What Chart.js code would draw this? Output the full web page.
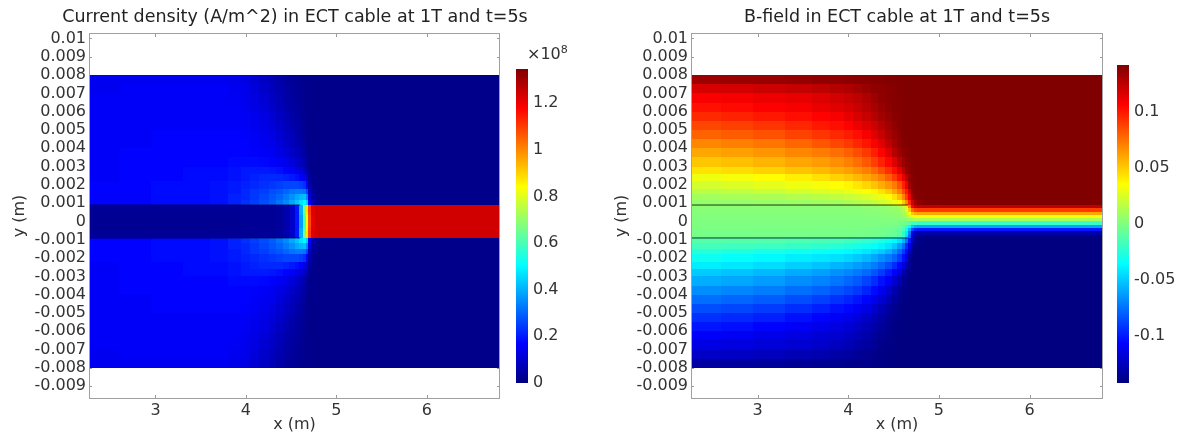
<!DOCTYPE html>
<html>
<head>
<meta charset="utf-8">
<script src="https://cdn.jsdelivr.net/npm/chart.js@4.4.1/dist/chart.umd.min.js"></script>
<style>
  body { margin:0; background:#fff; width:1182px; height:434px; overflow:hidden; position:relative; font-family:'DejaVu Sans', sans-serif; }
  canvas { position:absolute; top:0; }
  #exp { position:absolute; left:527px; top:42px; font-size:16px; color:#333; line-height:16px; }
  #exp sup { font-size:11px; vertical-align:6px; }
</style>
</head>
<body>
<canvas id="jChart" width="590" height="434" style="left:0px"></canvas>
<canvas id="jBar" width="90" height="434" style="left:505px"></canvas>
<canvas id="bChart" width="518" height="434" style="left:590px"></canvas>
<canvas id="bBar" width="74" height="434" style="left:1108px"></canvas>
<div id="exp">×10<sup>8</sup></div>
<script>
// axis ranges (data units)
const xRange = [2.265, 6.81];
const yRange = [-0.0097, 0.0103];
const jRange = [0, 1.346];      // x10^8 A/m^2
const bRange = [-0.142, 0.142]; // T

// tick labels
const xTicks = [3, 4, 5, 6];
const yTicks = [0.01, 0.009, 0.008, 0.007, 0.006, 0.005, 0.004, 0.003, 0.002, 0.001, 0,
                -0.001, -0.002, -0.003, -0.004, -0.005, -0.006, -0.007, -0.008, -0.009];
const jBarTicks = [0, 0.2, 0.4, 0.6, 0.8, 1, 1.2];
const bBarTicks = [-0.1, -0.05, 0, 0.05, 0.1];

// sample cell edges
const xEdges = [2.265, 2.6, 2.95, 3.3, 3.6, 3.8, 3.95, 4.05, 4.15, 4.25, 4.33, 4.41, 4.48, 4.54, 4.59, 4.63, 4.66, 4.69, 4.72, 4.76, 4.82, 5.0, 6.81];
const yEdges = [0.008, 0.0075, 0.007, 0.0065, 0.006, 0.0055, 0.005, 0.0045, 0.004, 0.0035, 0.003, 0.0026, 0.0022, 0.0018, 0.0015, 0.0012, 0.0009,
                0.00072, 0.00054, 0.00036, 0.00018, 0, -0.00018, -0.00036, -0.00054, -0.00072, -0.0009,
                -0.0012, -0.0015, -0.0018, -0.0022, -0.0026, -0.003, -0.0035, -0.004, -0.0045, -0.005, -0.0055, -0.006, -0.0065, -0.007, -0.0075, -0.008];

// cable edges and where the drawn edge line stops
const stripEdges = [0.0009, -0.0009];
const stripLineEnd = [4.6, 4.66];

// current density, rows top -> bottom, columns left -> right (x10^8)
const jValues = [
  [.15,.15,.15,.15,.15,.14,.13,.11,.09,.07,.055,.04,.03,.025,.02,.02,.02,.015,.015,.015,.015,.015],
  [.15,.16,.16,.16,.16,.15,.14,.12,.10,.08,.065,.05,.035,.03,.025,.02,.02,.015,.015,.015,.015,.015],
  [.16,.16,.16,.16,.16,.155,.145,.13,.11,.09,.07,.055,.04,.03,.025,.02,.02,.015,.015,.015,.015,.015],
  [.16,.16,.16,.16,.16,.16,.15,.135,.12,.10,.08,.06,.045,.035,.03,.02,.02,.015,.015,.015,.015,.015],
  [.16,.16,.16,.16,.16,.16,.155,.145,.13,.11,.09,.07,.05,.04,.03,.025,.02,.015,.015,.015,.015,.015],
  [.16,.16,.16,.16,.16,.16,.155,.15,.135,.12,.10,.08,.06,.045,.035,.025,.02,.015,.015,.015,.015,.015],
  [.16,.16,.17,.17,.17,.17,.165,.155,.145,.13,.11,.09,.07,.055,.04,.03,.02,.015,.015,.015,.015,.015],
  [.16,.16,.17,.17,.17,.17,.17,.16,.15,.14,.12,.10,.08,.065,.05,.035,.025,.015,.015,.015,.015,.015],
  [.16,.17,.17,.17,.17,.17,.17,.165,.16,.15,.135,.115,.095,.08,.06,.045,.03,.02,.015,.015,.015,.015],
  [.16,.17,.17,.17,.17,.18,.18,.18,.175,.165,.155,.14,.12,.10,.08,.06,.04,.02,.015,.015,.015,.015],
  [.16,.17,.17,.18,.18,.19,.20,.20,.20,.195,.185,.17,.155,.135,.115,.09,.06,.03,.015,.015,.015,.015],
  [.16,.17,.17,.18,.18,.19,.20,.21,.22,.22,.22,.21,.20,.185,.165,.14,.10,.04,.02,.015,.015,.015],
  [.17,.17,.18,.18,.19,.20,.21,.22,.23,.24,.25,.26,.26,.26,.25,.23,.17,.06,.025,.015,.015,.015],
  [.17,.17,.18,.18,.19,.20,.22,.24,.25,.27,.28,.30,.32,.33,.33,.32,.26,.09,.03,.02,.015,.015],
  [.17,.17,.18,.18,.19,.21,.22,.24,.26,.28,.30,.33,.36,.39,.41,.42,.35,.12,.04,.02,.015,.015],
  [.17,.17,.18,.18,.19,.21,.23,.25,.27,.29,.32,.35,.39,.43,.47,.50,.44,.16,.06,.03,.02,.015],
  // cable
  [.03,.03,.03,.03,.03,.03,.03,.03,.03,.03,.035,.06,.10,.20,.40,.65,.88,1.10,1.22,1.24,1.24,1.24],
  [.03,.03,.03,.03,.03,.03,.03,.03,.03,.03,.035,.06,.10,.20,.40,.65,.88,1.10,1.22,1.24,1.24,1.24],
  [.025,.025,.025,.025,.025,.025,.03,.03,.03,.03,.035,.06,.10,.20,.40,.63,.86,1.09,1.22,1.24,1.24,1.24],
  [.025,.025,.025,.025,.025,.025,.03,.03,.03,.03,.035,.06,.10,.20,.38,.60,.84,1.08,1.21,1.24,1.24,1.24],
  [.025,.025,.025,.025,.025,.025,.03,.03,.03,.03,.035,.06,.10,.20,.38,.60,.84,1.08,1.21,1.24,1.24,1.24],
  [.025,.025,.025,.025,.025,.025,.03,.03,.03,.03,.035,.06,.10,.20,.38,.60,.84,1.08,1.21,1.24,1.24,1.24],
  [.025,.025,.025,.025,.025,.025,.03,.03,.03,.03,.035,.06,.10,.20,.38,.60,.84,1.08,1.21,1.24,1.24,1.24],
  [.025,.025,.025,.025,.025,.025,.03,.03,.03,.03,.035,.06,.10,.20,.40,.63,.86,1.09,1.22,1.24,1.24,1.24],
  [.03,.03,.03,.03,.03,.03,.03,.03,.03,.03,.035,.06,.10,.20,.40,.65,.88,1.10,1.22,1.24,1.24,1.24],
  [.03,.03,.03,.03,.03,.03,.03,.03,.03,.03,.035,.06,.10,.20,.40,.65,.88,1.10,1.22,1.24,1.24,1.24],
  // below cable
  [.17,.17,.18,.18,.19,.21,.23,.25,.27,.29,.32,.35,.39,.43,.47,.50,.44,.16,.06,.03,.02,.015],
  [.17,.17,.18,.18,.19,.21,.22,.24,.26,.28,.30,.33,.36,.39,.41,.42,.35,.12,.04,.02,.015,.015],
  [.17,.17,.18,.18,.19,.20,.22,.24,.25,.27,.28,.30,.32,.33,.33,.32,.26,.09,.03,.02,.015,.015],
  [.17,.17,.18,.18,.19,.20,.21,.22,.23,.24,.25,.26,.26,.26,.25,.23,.17,.06,.025,.015,.015,.015],
  [.16,.17,.17,.18,.18,.19,.20,.21,.22,.22,.22,.21,.20,.185,.165,.14,.10,.04,.02,.015,.015,.015],
  [.16,.17,.17,.18,.18,.19,.20,.20,.20,.195,.185,.17,.155,.135,.115,.09,.06,.03,.015,.015,.015,.015],
  [.16,.17,.17,.17,.17,.18,.18,.18,.175,.165,.155,.14,.12,.10,.08,.06,.04,.02,.015,.015,.015,.015],
  [.16,.17,.17,.17,.17,.17,.17,.165,.16,.15,.135,.115,.095,.08,.06,.045,.03,.02,.015,.015,.015,.015],
  [.16,.16,.17,.17,.17,.17,.17,.16,.15,.14,.12,.10,.08,.065,.05,.035,.025,.015,.015,.015,.015,.015],
  [.16,.16,.17,.17,.17,.17,.165,.155,.145,.13,.11,.09,.07,.055,.04,.03,.02,.015,.015,.015,.015,.015],
  [.16,.16,.16,.16,.16,.16,.155,.15,.135,.12,.10,.08,.06,.045,.035,.025,.02,.015,.015,.015,.015,.015],
  [.16,.16,.16,.16,.16,.16,.155,.145,.13,.11,.09,.07,.05,.04,.03,.025,.02,.015,.015,.015,.015,.015],
  [.16,.16,.16,.16,.16,.16,.15,.135,.12,.10,.08,.06,.045,.035,.03,.02,.02,.015,.015,.015,.015,.015],
  [.16,.16,.16,.16,.16,.155,.145,.13,.11,.09,.07,.055,.04,.03,.025,.02,.02,.015,.015,.015,.015,.015],
  [.15,.16,.16,.16,.16,.15,.14,.12,.10,.08,.065,.05,.035,.03,.025,.02,.02,.015,.015,.015,.015,.015],
  [.15,.15,.15,.15,.15,.14,.13,.11,.09,.07,.055,.04,.03,.025,.02,.02,.02,.015,.015,.015,.015,.015]
];

// B-field, same grid (T)
const bValues = [
  [.134,.135,.135,.136,.137,.137,.138,.139,.139,.140,.140,.141,.141,.142,.142,.142,.142,.142,.142,.142,.142,.142],
  [.118,.119,.121,.123,.125,.127,.129,.132,.135,.137,.138,.139,.140,.141,.141,.142,.142,.142,.142,.142,.142,.142],
  [.108,.109,.111,.113,.116,.119,.122,.125,.129,.134,.137,.139,.140,.141,.141,.142,.142,.142,.142,.142,.142,.142],
  [.102,.104,.107,.109,.112,.115,.118,.122,.126,.131,.135,.138,.140,.141,.141,.142,.142,.142,.142,.142,.142,.142],
  [.095,.097,.100,.103,.106,.109,.113,.117,.122,.127,.132,.136,.139,.140,.141,.142,.142,.142,.142,.142,.142,.142],
  [.087,.089,.092,.096,.100,.103,.106,.111,.116,.121,.127,.133,.137,.140,.141,.142,.142,.142,.142,.142,.142,.142],
  [.079,.081,.084,.088,.092,.096,.099,.103,.109,.115,.122,.130,.135,.139,.141,.142,.142,.142,.142,.142,.142,.142],
  [.069,.071,.074,.078,.083,.087,.091,.096,.101,.107,.115,.124,.132,.137,.140,.141,.142,.142,.142,.142,.142,.142],
  [.060,.062,.065,.069,.072,.076,.080,.085,.091,.098,.106,.116,.126,.134,.138,.140,.141,.142,.142,.142,.142,.142],
  [.051,.053,.056,.060,.063,.067,.071,.076,.082,.089,.097,.105,.115,.126,.134,.138,.140,.141,.142,.142,.142,.142],
  [.043,.045,.048,.052,.055,.059,.062,.066,.071,.077,.085,.094,.103,.114,.126,.135,.139,.141,.142,.142,.142,.142],
  [.031,.033,.036,.040,.044,.048,.051,.055,.060,.065,.071,.080,.090,.101,.112,.126,.136,.140,.141,.142,.142,.142],
  [.023,.025,.028,.031,.033,.035,.038,.042,.047,.052,.058,.065,.072,.083,.097,.110,.132,.139,.141,.142,.142,.142],
  [.016,.018,.020,.023,.025,.027,.029,.031,.034,.038,.043,.050,.060,.071,.085,.100,.120,.137,.140,.141,.142,.142],
  [.010,.011,.012,.014,.016,.018,.020,.022,.025,.028,.031,.036,.044,.055,.070,.090,.110,.133,.139,.141,.142,.142],
  [.006,.006,.007,.008,.009,.010,.012,.014,.016,.019,.022,.026,.031,.037,.050,.068,.095,.118,.133,.138,.141,.142],
  // cable
  [.003,.003,.003,.003,.003,.003,.003,.003,.004,.004,.005,.006,.008,.012,.02,.04,.07,.107,.121,.125,.125,.125],
  [.002,.002,.002,.002,.002,.002,.002,.002,.003,.003,.004,.005,.006,.009,.015,.028,.05,.077,.087,.09,.09,.09],
  [.0015,.0015,.0015,.0015,.0015,.0015,.0015,.0015,.002,.002,.003,.003,.004,.006,.01,.019,.034,.051,.058,.06,.06,.06],
  [.001,.001,.001,.001,.001,.001,.001,.001,.001,.001,.002,.002,.003,.004,.006,.011,.02,.03,.034,.035,.035,.035],
  [.0005,.0005,.0005,.0005,.0005,.0005,.0005,.0005,.0005,.0005,.001,.001,.001,.001,.002,.004,.007,.01,.012,.012,.012,.012],
  [-.0005,-.0005,-.0005,-.0005,-.0005,-.0005,-.0005,-.0005,-.0005,-.0005,-.001,-.001,-.001,-.002,-.003,-.006,-.011,-.017,-.019,-.02,-.02,-.02],
  [-.001,-.001,-.001,-.001,-.001,-.001,-.001,-.001,-.001,-.001,-.002,-.002,-.003,-.005,-.01,-.019,-.033,-.051,-.058,-.06,-.06,-.06],
  [-.0015,-.0015,-.0015,-.0015,-.0015,-.0015,-.0015,-.0015,-.002,-.002,-.003,-.004,-.005,-.008,-.016,-.03,-.055,-.085,-.097,-.1,-.1,-.1],
  [-.002,-.002,-.002,-.002,-.002,-.002,-.002,-.002,-.003,-.003,-.004,-.005,-.007,-.011,-.02,-.04,-.072,-.11,-.126,-.13,-.13,-.13],
  [-.003,-.003,-.003,-.003,-.003,-.003,-.003,-.003,-.004,-.004,-.005,-.006,-.008,-.012,-.022,-.045,-.078,-.119,-.136,-.14,-.14,-.14],
  // below cable
  [-.012,-.012,-.013,-.014,-.015,-.016,-.018,-.02,-.022,-.025,-.028,-.032,-.037,-.043,-.056,-.074,-.1,-.122,-.135,-.139,-.141,-.142],
  [-.017,-.018,-.019,-.021,-.023,-.025,-.027,-.029,-.032,-.035,-.038,-.043,-.051,-.062,-.076,-.095,-.114,-.135,-.14,-.141,-.142,-.142],
  [-.025,-.027,-.029,-.031,-.033,-.035,-.037,-.039,-.042,-.046,-.05,-.057,-.066,-.077,-.09,-.104,-.123,-.138,-.141,-.142,-.142,-.142],
  [-.032,-.034,-.037,-.04,-.042,-.044,-.047,-.05,-.055,-.06,-.066,-.072,-.079,-.089,-.102,-.114,-.134,-.14,-.142,-.142,-.142,-.142],
  [-.04,-.042,-.045,-.049,-.052,-.056,-.059,-.063,-.067,-.072,-.078,-.086,-.095,-.105,-.116,-.128,-.137,-.141,-.142,-.142,-.142,-.142],
  [-.05,-.052,-.055,-.059,-.062,-.066,-.069,-.073,-.077,-.083,-.09,-.099,-.107,-.117,-.128,-.136,-.14,-.142,-.142,-.142,-.142,-.142],
  [-.058,-.06,-.063,-.067,-.07,-.074,-.078,-.082,-.088,-.094,-.102,-.109,-.119,-.129,-.136,-.139,-.141,-.142,-.142,-.142,-.142,-.142],
  [-.067,-.069,-.072,-.076,-.079,-.083,-.087,-.091,-.097,-.104,-.111,-.12,-.129,-.136,-.139,-.141,-.142,-.142,-.142,-.142,-.142,-.142],
  [-.076,-.078,-.081,-.085,-.089,-.093,-.097,-.101,-.106,-.112,-.119,-.127,-.134,-.138,-.141,-.142,-.142,-.142,-.142,-.142,-.142,-.142],
  [-.085,-.087,-.09,-.094,-.098,-.102,-.105,-.109,-.114,-.12,-.126,-.133,-.137,-.14,-.142,-.142,-.142,-.142,-.142,-.142,-.142,-.142],
  [-.093,-.095,-.098,-.102,-.106,-.109,-.112,-.116,-.121,-.126,-.131,-.136,-.139,-.141,-.142,-.142,-.142,-.142,-.142,-.142,-.142,-.142],
  [-.101,-.103,-.106,-.109,-.112,-.115,-.118,-.122,-.126,-.13,-.134,-.138,-.14,-.141,-.142,-.142,-.142,-.142,-.142,-.142,-.142,-.142],
  [-.108,-.11,-.113,-.115,-.118,-.12,-.123,-.126,-.13,-.134,-.137,-.139,-.141,-.142,-.142,-.142,-.142,-.142,-.142,-.142,-.142,-.142],
  [-.114,-.115,-.117,-.119,-.121,-.124,-.127,-.13,-.133,-.136,-.139,-.14,-.141,-.142,-.142,-.142,-.142,-.142,-.142,-.142,-.142,-.142],
  [-.122,-.123,-.125,-.127,-.129,-.131,-.133,-.135,-.137,-.139,-.14,-.141,-.141,-.142,-.142,-.142,-.142,-.142,-.142,-.142,-.142,-.142],
  [-.132,-.133,-.134,-.135,-.136,-.137,-.138,-.139,-.139,-.14,-.14,-.141,-.141,-.142,-.142,-.142,-.142,-.142,-.142,-.142,-.142,-.142]
];

Chart.defaults.font.family = "'DejaVu Sans', sans-serif";
Chart.defaults.color = '#333';

function clamp01(v){ return Math.max(0, Math.min(1, v)); }

// jet colour map
function jet(t){
  t = clamp01(t);
  const r = clamp01(1.5 - Math.abs(4 * t - 3));
  const g = clamp01(1.5 - Math.abs(4 * t - 2));
  const b = clamp01(1.5 - Math.abs(4 * t - 1));
  return 'rgb(' + Math.round(r * 255) + ',' + Math.round(g * 255) + ',' + Math.round(b * 255) + ')';
}

function fmt(v){ return String(parseFloat(Number(v).toFixed(4))); }
function fixTicks(list){ return function(scale){ scale.ticks = list.map(v => ({value: v})); }; }

// fills the grid cells, placed with the chart's own scales
function heatmap(values, range){
  return {
    id: 'heatmap',
    beforeDatasetsDraw(chart){
      const {ctx, chartArea: a, scales: {x, y}} = chart;
      ctx.save();
      ctx.beginPath();
      ctx.rect(a.left, a.top, a.width, a.height);
      ctx.clip();
      for (let r = 0; r < values.length; r++){
        const y0 = Math.round(y.getPixelForValue(yEdges[r]));
        const y1 = Math.round(y.getPixelForValue(yEdges[r + 1]));
        for (let c = 0; c < values[r].length; c++){
          const x0 = Math.round(x.getPixelForValue(xEdges[c]));
          const x1 = Math.round(x.getPixelForValue(xEdges[c + 1]));
          ctx.fillStyle = jet((values[r][c] - range[0]) / (range[1] - range[0]));
          ctx.fillRect(x0, y0, x1 - x0, y1 - y0);
        }
      }
      ctx.restore();
    }
  };
}

// inward tick marks (under the field) and grey box
const frame = {
  id: 'frame',
  beforeDatasetsDraw(chart){
    const {ctx, chartArea: a, scales: {x, y}} = chart;
    ctx.save();
    ctx.strokeStyle = '#999';
    ctx.lineWidth = 1;
    ctx.beginPath();
    x.ticks.forEach(t => {
      const px = Math.round(x.getPixelForValue(t.value)) + 0.5;
      ctx.moveTo(px, a.top); ctx.lineTo(px, a.top + 4);
      ctx.moveTo(px, a.bottom); ctx.lineTo(px, a.bottom - 4);
    });
    y.ticks.forEach(t => {
      const py = Math.round(y.getPixelForValue(t.value)) + 0.5;
      ctx.moveTo(a.left, py); ctx.lineTo(a.left + 3, py);
      ctx.moveTo(a.right, py); ctx.lineTo(a.right - 3, py);
    });
    ctx.stroke();
    ctx.restore();
  },
  afterDraw(chart){
    const {ctx, chartArea: a} = chart;
    ctx.save();
    ctx.strokeStyle = '#a0a0a0';
    ctx.lineWidth = 1;
    ctx.strokeRect(a.left + 0.5, a.top + 0.5, a.width - 1, a.height - 1);
    ctx.restore();
  }
};

// rightSpace: room kept right of the plot; wideTitle: title centred over the whole canvas
function fieldChart(id, title, values, range, yAxisWidth, yTitlePad, lineEnd, lineColor, rightSpace, wideTitle){
  const scales = {
    x: {
      type: 'linear', min: xRange[0], max: xRange[1],
      afterBuildTicks: fixTicks(xTicks),
      afterFit: s => { s.height = 35; },
      ticks: {callback: fmt, font: {size: 16}, padding: 2, autoSkip: false, maxRotation: 0},
      grid: {display: false, drawTicks: false},
      border: {display: false},
      title: {display: true, text: 'x (m)', font: {size: 16}, padding: {top: 0, bottom: 0}}
    },
    y: {
      type: 'linear', min: yRange[0], max: yRange[1],
      afterBuildTicks: fixTicks(yTicks),
      afterFit: s => { s.width = yAxisWidth; },
      ticks: {callback: fmt, font: {size: 16}, padding: 3, autoSkip: false},
      grid: {display: false, drawTicks: false},
      border: {display: false},
      title: {display: true, text: 'y (m)', font: {size: 16}, padding: {top: yTitlePad, bottom: 0}}
    }
  };
  if (wideTitle) {
    scales.spacer = {
      type: 'linear', position: 'right',
      afterFit: s => { s.width = rightSpace; },
      ticks: {display: false},
      grid: {display: false, drawTicks: false},
      border: {display: false}
    };
  }
  return new Chart(document.getElementById(id), {
    type: 'scatter',
    data: {
      datasets: stripEdges.map(e => ({
        data: [{x: xRange[0], y: e}, {x: lineEnd, y: e}],
        showLine: true,
        borderColor: lineColor,
        borderWidth: 1,
        pointRadius: 0
      }))
    },
    options: {
      responsive: false,
      animation: false,
      layout: {padding: {left: 0, right: wideTitle ? 0 : rightSpace, top: 0, bottom: 0}},
      plugins: {
        legend: {display: false},
        tooltip: {enabled: false},
        title: {
          display: true, text: title, fullSize: wideTitle, color: '#222',
          font: {size: 17.5, weight: 'normal'},
          padding: {top: 7, bottom: 5}
        }
      },
      scales: scales
    },
    plugins: [frame, heatmap(values, range)]
  });
}

// colour bar: gradient laid along its own value axis
const barFill = {
  id: 'barFill',
  beforeDatasetsDraw(chart){
    const {ctx, chartArea: a, scales: {y}} = chart;
    const top = y.getPixelForValue(y.max), bottom = y.getPixelForValue(y.min);
    const g = ctx.createLinearGradient(0, bottom, 0, top);
    [0, 0.125, 0.375, 0.625, 0.875, 1].forEach(s => g.addColorStop(s, jet(s)));
    ctx.fillStyle = g;
    ctx.fillRect(a.left, top, a.width, bottom - top);
  }
};

function colorBar(id, range, ticks, padLeft, padTop, axisWidth){
  return new Chart(document.getElementById(id), {
    type: 'scatter',
    data: {datasets: []},
    options: {
      responsive: false,
      animation: false,
      layout: {padding: {left: padLeft, right: 0, top: padTop, bottom: 51}},
      plugins: {legend: {display: false}, tooltip: {enabled: false}},
      scales: {
        x: {display: false, min: 0, max: 1},
        y: {
          position: 'right', min: range[0], max: range[1],
          afterBuildTicks: fixTicks(ticks),
          afterFit: s => { s.width = axisWidth; },
          ticks: {callback: fmt, font: {size: 16}, padding: 5, autoSkip: false},
          grid: {display: false, drawTicks: false},
          border: {display: false}
        }
      }
    },
    plugins: [barFill]
  });
}

fieldChart('jChart', 'Current density (A/m^2) in ECT cable at 1T and t=5s', jValues, jRange, 89, 10.4, stripLineEnd[0], 'rgba(0,0,70,0.8)', 90, true);
colorBar('jBar', jRange, jBarTicks, 11, 69, 67);
fieldChart('bChart', 'B-field in ECT cable at 1T and t=5s', bValues, bRange, 101, 22.4, stripLineEnd[1], 'rgba(0,0,0,0.8)', 5, false);
colorBar('bBar', bRange, bBarTicks, 9, 65, 53);
</script>
</body>
</html>
